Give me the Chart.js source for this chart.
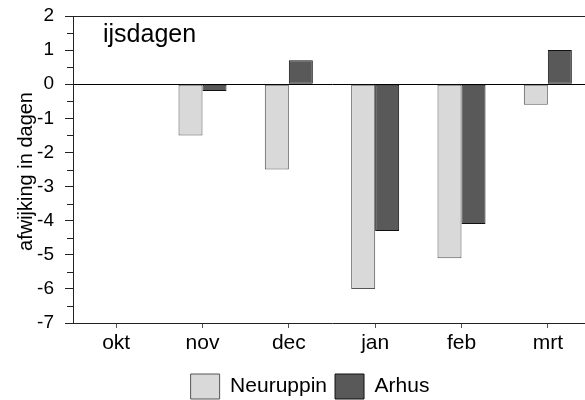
<!DOCTYPE html>
<html>
<head>
<meta charset="utf-8">
<script src="https://cdn.jsdelivr.net/npm/chart.js@4/dist/chart.umd.min.js"></script>
<style>
  html, body { margin: 0; padding: 0; overflow: hidden; background: #fff; }
</style>
</head>
<body>
<canvas id="ijsChart" width="600" height="400"></canvas>
<script>
var maanden = ['okt', 'nov', 'dec', 'jan', 'feb', 'mrt'];
var neuruppinData = [0, -1.5, -2.5, -6.0, -5.1, -0.6];
var arhusData = [0, -0.2, 0.7, -4.3, -4.1, 1.0];

var font = "'Liberation Sans', Arial, sans-serif";
Chart.defaults.font.family = font;
Chart.defaults.color = '#000';

// title inside plot, y title, top border and minor ticks
const extras = {
    id: 'extras',
    afterDraw(chart) {
        const ctx = chart.ctx, area = chart.chartArea, y = chart.scales.y;
        ctx.save();
        ctx.strokeStyle = '#222';
        ctx.lineWidth = 1;
        ctx.beginPath();
        ctx.moveTo(area.left - 8, area.top + 0.5);
        ctx.lineTo(area.right, area.top + 0.5);
        ctx.stroke();
        for (let v = -6.5; v < 2; v += 1) {
            const py = Math.round(y.getPixelForValue(v)) + 0.5;
            ctx.beginPath();
            ctx.moveTo(area.left - 6, py);
            ctx.lineTo(area.left, py);
            ctx.stroke();
        }
        ctx.fillStyle = '#000';
        ctx.font = '25px ' + font;
        ctx.textBaseline = 'alphabetic';
        ctx.fillText('ijsdagen', area.left + 30, area.top + 26);

        ctx.font = '20px ' + font;
        ctx.translate(area.left - 47, (area.top + area.bottom) / 2 + 2);
        ctx.rotate(-Math.PI / 2);
        ctx.textAlign = 'center';
        ctx.textBaseline = 'middle';
        ctx.fillText('afwijking in dagen', 0, 0);
        ctx.restore();
    }
};

const ctx = document.getElementById('ijsChart').getContext('2d');
const chart = new Chart(ctx, {
    type: 'bar',
    data: {
        labels: maanden,
        datasets: [
            {
                label: 'Neuruppin',
                data: neuruppinData,
                backgroundColor: '#d9d9d9',
                borderColor: '#555',
                borderWidth: 1,
                borderSkipped: false
            },
            {
                label: 'Arhus',
                data: arhusData,
                backgroundColor: '#595959',
                borderColor: '#111',
                borderWidth: 1,
                borderSkipped: false
            }
        ]
    },
    options: {
        responsive: false,
        animation: false,
        layout: { padding: { top: 16, right: 9, left: 29, bottom: 0 } },
        datasets: { bar: { categoryPercentage: 0.556, barPercentage: 1 } },
        scales: {
            x: {
                offset: true,
                afterFit(scale) { scale.height = 43; },
                grid: { offset: false, drawOnChartArea: false, tickLength: 5, tickColor: '#555' },
                border: { color: '#222', width: 1 },
                ticks: { font: { size: 21 }, padding: 3 }
            },
            y: {
                min: -7,
                max: 2,
                afterFit(scale) { scale.width = 44; },
                ticks: { stepSize: 1, font: { size: 19, lineHeight: 0.5 }, padding: 11 },
                grid: {
                    drawOnChartArea: true,
                    tickLength: 8,
                    tickColor: '#222',
                    color: (c) => c.tick && c.tick.value === 0 ? '#000' : 'rgba(0,0,0,0)'
                },
                border: { color: '#222', width: 1 }
            }
        },
        plugins: {
            tooltip: { enabled: false },
            legend: {
                position: 'bottom',
                maxHeight: 34,
                labels: {
                    boxWidth: 29,
                    boxHeight: 25,
                    font: { size: 21 },
                    padding: 8
                }
            }
        }
    },
    plugins: [extras]
});
</script>
</body>
</html>
